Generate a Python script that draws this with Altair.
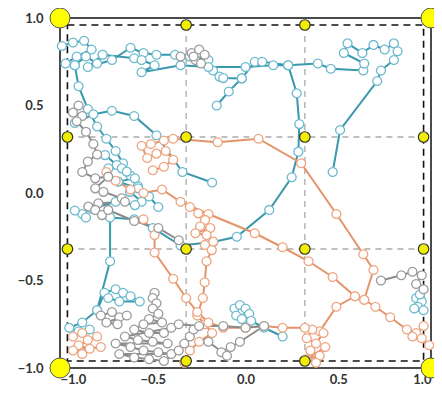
import altair as alt
import pandas as pd

# ---------------- data ----------------
teal_top = [(-0.99,0.84),(-0.93,0.86),(-0.87,0.87),(-0.83,0.82),(-0.91,0.78),(-0.97,0.74),(-0.92,0.73),
            (-0.86,0.78),(-0.80,0.74),(-0.77,0.79),(-0.85,0.72),(-0.72,0.76),(-0.62,0.83),(-0.55,0.80),
            (-0.48,0.79),(-0.38,0.79),(-0.30,0.78),(-0.20,0.76),(-0.175,0.70),(-0.14,0.665),(-0.12,0.657),
            (-0.02,0.655),(0.05,0.75),(0.09,0.75),(0.23,0.73),(0.39,0.74),(0.46,0.71),(0.635,0.70),
            (0.64,0.74),(0.53,0.80),(0.55,0.855),(0.63,0.80),(0.69,0.846),(0.75,0.82),(0.80,0.855),
            (0.82,0.81),(0.80,0.76),(0.73,0.70),(0.71,0.64),(0.51,0.36),(0.47,0.12)]
teal_top2 = [(-0.77,0.79),(-0.60,0.77),(-0.56,0.76),(-0.49,0.73),(-0.56,0.69),(-0.35,0.73),
             (-0.20,0.72),(0.00,0.72),(0.15,0.73),(0.23,0.73)]
teal_branch = [(-0.02,0.655),(-0.09,0.58),(-0.155,0.50)]
teal_curve = [(0.23,0.73),(0.276,0.57),(0.29,0.394),(0.285,0.236),(0.249,0.09),(0.128,-0.097),
              (-0.047,-0.25),(-0.175,-0.28),(-0.35,-0.30),(-0.50,-0.20),(-0.60,-0.15),(-0.73,-0.14),
              (-0.73,-0.39),(-0.80,-0.67),(-0.88,-0.74),(-0.95,-0.77),(-0.90,-0.79),(-0.84,-0.78)]
teal_cluster_ll = [(-0.80,-0.67),(-0.76,-0.57),(-0.70,-0.55),(-0.66,-0.57),(-0.62,-0.59),(-0.57,-0.62),
                   (-0.68,-0.62),(-0.74,-0.60)]
teal_diag = [(-0.92,0.73),(-0.90,0.61),(-0.85,0.48),(-0.80,0.38),(-0.75,0.31),(-0.70,0.24),
             (-0.66,0.17),(-0.62,0.10),(-0.58,0.04),(-0.52,-0.02),(-0.47,-0.08)]
teal_mid = [(-0.92,0.40),(-0.82,0.45),(-0.72,0.47),(-0.60,0.44),(-0.48,0.33),(-0.34,0.12),(-0.18,0.06)]
teal_center = [(-0.757,0.217),(-0.694,0.16),(-0.739,0.141),(-0.667,0.141),(-0.64,0.122),(-0.596,0.084),
               (-0.686,0.065),(-0.578,0.027),(-0.623,0.007),(-0.56,-0.05),(-0.596,-0.069),
               (-0.70,-0.05),(-0.83,-0.09),(-0.88,-0.12),(-0.92,-0.10),(-0.86,-0.14)]
teal_bottom = [(-0.06,-0.66),(-0.03,-0.64),(0.00,-0.66),(0.02,-0.69),(-0.05,-0.70),(-0.02,-0.72),
               (0.03,-0.73),(0.10,-0.77),(0.20,-0.82)]
teal_right = [(0.92,-0.60),(0.95,-0.62),(0.93,-0.65),(0.96,-0.67),(0.91,-0.66),(0.94,-0.58)]

orange_upper = [(-0.50,0.13),(-0.44,0.15),(-0.39,0.19),(-0.43,0.24),(-0.48,0.225),(-0.53,0.20),
                (-0.56,0.27),(-0.51,0.28),(-0.44,0.30),(-0.39,0.31),(-0.15,0.29),(0.07,0.31),
                (0.30,0.17),(0.49,-0.12),(0.635,-0.35),(0.69,-0.44),(0.64,-0.61),(0.70,-0.65),
                (0.78,-0.71),(0.87,-0.78),(0.92,-0.80),(0.95,-0.83),(0.99,-0.87),(0.90,-0.82),(0.96,-0.76)]
orange_branch = [(0.64,-0.61),(0.59,-0.59),(0.49,-0.65),(0.40,-0.79),(0.36,-0.78),(0.33,-0.83),
                 (0.38,-0.86),(0.42,-0.80),(0.35,-0.90),(0.40,-0.93),(0.33,-0.95),(0.43,-0.88),(0.38,-0.97)]
orange_diag = [(-0.75,0.12),(-0.70,0.07),(-0.62,0.02),(-0.55,0.00),(-0.45,0.02),(-0.35,-0.05),
               (-0.20,-0.12),(0.05,-0.23),(0.20,-0.31),(0.34,-0.39),(0.47,-0.48),(0.59,-0.59)]
orange_chain = [(-0.30,-0.08),(-0.254,-0.116),(-0.218,-0.154),(-0.245,-0.19),(-0.19,-0.20),(-0.27,-0.23),
                (-0.21,-0.24),(-0.174,-0.278),(-0.218,-0.297),(-0.182,-0.326),(-0.21,-0.39),(-0.22,-0.51),
                (-0.23,-0.60),(-0.26,-0.70),(-0.22,-0.75),(-0.18,-0.80),(-0.25,-0.85),(-0.30,-0.90),(-0.33,-0.97)]
orange_left = [(-0.55,-0.15),(-0.49,-0.24),(-0.49,-0.34),(-0.39,-0.49),(-0.32,-0.60),(-0.26,-0.68),
               (-0.20,-0.74),(-0.12,-0.77),(0.00,-0.77),(0.10,-0.76),(0.20,-0.77),(0.32,-0.77)]
orange_ll = [(-0.93,-0.82),(-0.88,-0.80),(-0.85,-0.84),(-0.80,-0.82),(-0.90,-0.87),(-0.84,-0.89),
             (-0.78,-0.88),(-0.93,-0.90),(-0.88,-0.92)]

gray_top = [(-0.35,0.78),(-0.29,0.80),(-0.25,0.82),(-0.22,0.79),(-0.27,0.76),(-0.24,0.74),(-0.28,0.78)]
gray_left = [(-0.90,0.50),(-0.93,0.46),(-0.88,0.44),(-0.91,0.41),(-0.86,0.35),(-0.82,0.28),(-0.80,0.22),
             (-0.85,0.18),(-0.88,0.12),(-0.81,0.084),(-0.74,0.093),(-0.81,0.027),(-0.766,0.007),
             (-0.667,-0.03),(-0.65,-0.05),(-0.793,-0.059),(-0.847,-0.078),(-0.81,-0.097),(-0.774,-0.126),
             (-0.74,-0.097),(-0.60,-0.16),(-0.47,-0.20),(-0.36,-0.27)]
gray_bottom = [(-0.49,-0.57),(-0.50,-0.60),(-0.48,-0.63),(-0.50,-0.66),(-0.47,-0.69),(-0.52,-0.72),
               (-0.45,-0.74),(-0.55,-0.75),(-0.60,-0.78),(-0.52,-0.80),(-0.44,-0.80),(-0.40,-0.77),
               (-0.65,-0.82),(-0.58,-0.84),(-0.50,-0.85),(-0.42,-0.86),(-0.70,-0.86),(-0.62,-0.88),
               (-0.55,-0.90),(-0.47,-0.91),(-0.40,-0.92),(-0.68,-0.92),(-0.60,-0.94),(-0.52,-0.95),
               (-0.44,-0.96),(-0.36,-0.90),(-0.33,-0.86),(-0.30,-0.82),(-0.28,-0.78)]
gray_cluster = [(-0.78,-0.70),(-0.72,-0.68),(-0.68,-0.71),(-0.64,-0.70),(-0.75,-0.74),(-0.69,-0.75)]
gray_line = [(-0.36,-0.75),(-0.25,-0.76),(-0.12,-0.76),(0.00,-0.77),(0.10,-0.76),(-0.03,-0.85),
             (-0.08,-0.88),(-0.13,-0.91),(-0.10,-0.93),(-0.20,-0.85)]
gray_right = [(0.73,-0.50),(0.84,-0.47),(0.90,-0.45),(0.95,-0.47),(0.92,-0.52),(0.96,-0.55)]

series = {
    "teal": [teal_top, teal_top2, teal_branch, teal_curve, teal_cluster_ll, teal_diag, teal_mid,
             teal_center, teal_bottom, teal_right],
    "orange": [orange_upper, orange_branch, orange_diag, orange_chain, orange_left, orange_ll],
    "gray": [gray_top, gray_left, gray_bottom, gray_cluster, gray_line, gray_right],
}

grid_pos = [-0.32, 0.32]
inner = 0.96
big_x = [-1, 1, -1, 1]
big_y = [1, 1, -1, -1]
small_x = [-0.32, 0.32, -0.96, -0.32, 0.32, 0.96, -0.96, -0.32, 0.32, 0.96, -0.32, 0.32]
small_y = [0.96, 0.96, 0.32, 0.32, 0.32, 0.32, -0.32, -0.32, -0.32, -0.32, -0.96, -0.96]
tick_vals = [-1.0, -0.5, 0.0, 0.5, 1.0]

# ---------------- tables ----------------
rows = []
for grp, trajs in series.items():
    for t, pts in enumerate(trajs):
        for i, (x, y) in enumerate(pts):
            rows.append({"grp": grp, "traj": f"{grp}{t}", "i": i, "x": x, "y": y})
df = pd.DataFrame(rows)

grp_dom = ["gray", "orange", "teal"]
line_col = alt.Scale(domain=grp_dom, range=["#8c8c8c", "#e3946b", "#3a98ad"])
pt_col = alt.Scale(domain=grp_dom, range=["#9a9a9a", "#eda47f", "#6cbacd"])

xs = alt.Scale(domain=[-1, 1], nice=False, zero=False)
ys = alt.Scale(domain=[-1, 1], nice=False, zero=False)
ax_common = dict(values=tick_vals, format=".1f", domain=False, ticks=False, grid=False,
                 labelFont="Lato", labelFontSize=13, labelFontWeight="bold", labelColor="#333",
                 title=None)
X = alt.X("x:Q", scale=xs, axis=alt.Axis(labelPadding=5, **ax_common))
Y = alt.Y("y:Q", scale=ys, axis=alt.Axis(labelPadding=17, **ax_common))

vgrid = pd.DataFrame({"x": grid_pos, "y": [-inner] * 2, "y2": [inner] * 2})
hgrid = pd.DataFrame({"y": grid_pos, "x": [-inner] * 2, "x2": [inner] * 2})
rect = pd.DataFrame({"x": [-inner], "x2": [inner], "y": [-inner], "y2": [inner]})

gv = alt.Chart(vgrid).mark_rule(color="#aaaaaa", strokeDash=[6, 5], strokeWidth=1.3).encode(
    x=X, y="y:Q", y2="y2:Q")
gh = alt.Chart(hgrid).mark_rule(color="#aaaaaa", strokeDash=[6, 5], strokeWidth=1.3).encode(
    y=Y, x="x:Q", x2="x2:Q")
frame = alt.Chart(rect).mark_rect(fill=None, fillOpacity=0, stroke="#111", strokeDash=[7, 5],
                                  strokeWidth=1.6).encode(x=X, x2="x2:Q", y=Y, y2="y2:Q")

lines = alt.Chart(df).mark_line(strokeWidth=2, interpolate="linear").encode(
    x=X, y=Y, detail="traj:N", order="i:Q",
    color=alt.Color("grp:N", scale=line_col, legend=None))
points = alt.Chart(df).mark_point(shape="circle", filled=True, fill="white", size=80,
                                  strokeWidth=1.3, opacity=1).encode(
    x=X, y=Y, stroke=alt.Stroke("grp:N", scale=pt_col, legend=None))

big = alt.Chart(pd.DataFrame({"x": big_x, "y": big_y})).mark_point(
    shape="circle", filled=True, fill="#ffff00", stroke="#555", strokeWidth=1, size=400, opacity=1
).encode(x=X, y=Y)
small = alt.Chart(pd.DataFrame({"x": small_x, "y": small_y})).mark_point(
    shape="circle", filled=True, fill="#f2ee00", stroke="#333", strokeWidth=1.2, size=110, opacity=1
).encode(x=X, y=Y)

chart = alt.layer(gv, gh, frame, lines, points, small, big).properties(
    width=371, height=350,
    padding={"left": 52, "top": 10, "right": 3, "bottom": 28},
    autosize=alt.AutoSizeParams(type="none"),
).configure_view(stroke="#111", strokeWidth=1.5)

chart.save("out.html", embed_options={"renderer": "svg", "actions": False})
